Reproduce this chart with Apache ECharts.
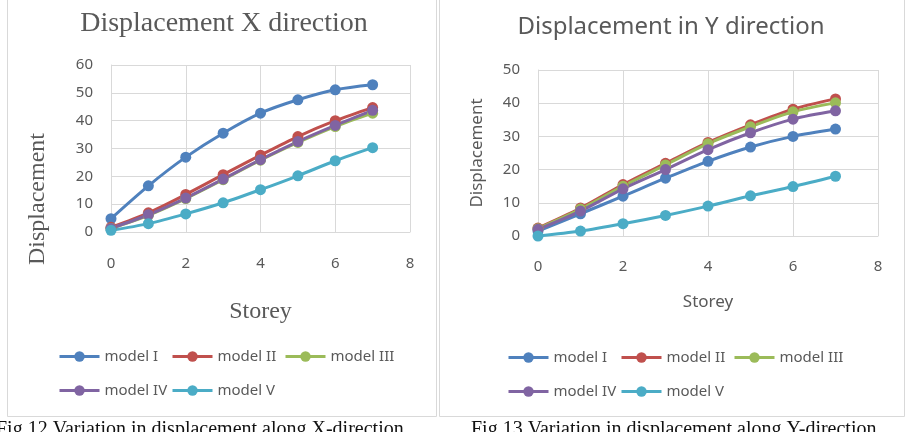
<!DOCTYPE html>
<html>
<head>
<meta charset="utf-8">
<script src="https://cdn.jsdelivr.net/npm/echarts@6/dist/echarts.min.js"></script>
<style>
  html, body { margin: 0; padding: 0; background: #fff; }
  #main { width: 910px; height: 432px; }
</style>
</head>
<body>
<div id="main"></div>
<script type="text/javascript">
// storey numbers on the x axis
var storeys = [0, 1, 2, 3, 4, 5, 6, 7];
var modelNames = ['model I', 'model II', 'model III', 'model IV', 'model V'];
var modelColors = ['#4F81BD', '#C0504D', '#9BBB59', '#8064A2', '#4BACC6'];

// displacement along X (fig 12)
var xModel1 = [4.8, 16.6, 26.9, 35.5, 42.7, 47.5, 51.1, 52.9];
var xModel2 = [1.7, 6.9, 13.5, 20.6, 27.6, 34.3, 40.0, 44.7];
var xModel3 = [1.3, 6.0, 12.0, 18.8, 25.8, 32.2, 37.9, 42.7];
var xModel4 = [1.3, 6.2, 12.2, 19.0, 26.0, 32.5, 38.3, 43.7];
var xModel5 = [0.6, 3.0, 6.5, 10.5, 15.2, 20.2, 25.6, 30.3];

// displacement along Y (fig 13)
var yModel1 = [1.5, 6.7, 12.0, 17.4, 22.5, 26.8, 30.0, 32.2];
var yModel2 = [2.4, 8.4, 15.5, 21.9, 28.2, 33.5, 38.2, 41.3];
var yModel3 = [2.2, 8.1, 15.0, 21.4, 27.8, 32.9, 37.4, 40.1];
var yModel4 = [2.0, 7.5, 14.2, 20.0, 26.0, 31.1, 35.2, 37.7];
var yModel5 = [0.0, 1.5, 3.7, 6.2, 9.0, 12.1, 14.9, 18.0];

var xSets = [xModel1, xModel2, xModel3, xModel4, xModel5];
var ySets = [yModel1, yModel2, yModel3, yModel4, yModel5];

var grey = '#595959';
var gridGrey = '#d9d9d9';

function pairs(vals) {
    return storeys.map(function (s, i) { return [s, vals[i]]; });
}

function makeSeries(vals, i, axisIdx) {
    return {
        name: modelNames[i],
        type: 'line',
        xAxisIndex: axisIdx,
        yAxisIndex: axisIdx,
        data: pairs(vals),
        smooth: 0.3,
        symbol: 'circle',
        symbolSize: 11,
        lineStyle: { width: 3, color: modelColors[i] },
        itemStyle: { color: modelColors[i] },
        emphasis: { disabled: true }
    };
}

function makeXAxis(idx, nameGap, nameFont, labelMargin) {
    return {
        type: 'value', gridIndex: idx, min: 0, max: 8, interval: 2,
        name: 'Storey', nameLocation: 'middle', nameGap: nameGap,
        nameTextStyle: nameFont,
        axisLine: { show: true, lineStyle: { color: gridGrey } },
        axisTick: { show: false },
        axisLabel: { color: grey, fontSize: 15, fontFamily: 'Noto Sans', margin: labelMargin },
        splitLine: { show: true, lineStyle: { color: gridGrey } }
    };
}

function makeYAxis(idx, max, name, nameGap, nameFont) {
    return {
        type: 'value', gridIndex: idx, min: 0, max: max, interval: 10,
        name: name, nameLocation: 'middle', nameGap: nameGap,
        nameTextStyle: nameFont,
        axisLine: { show: true, lineStyle: { color: gridGrey } },
        axisTick: { show: false },
        axisLabel: { color: grey, fontSize: 15, fontFamily: 'Noto Sans', margin: 18 },
        splitLine: { show: true, lineStyle: { color: gridGrey } }
    };
}

function makeLegend(name, left, top) {
    return {
        data: [{ name: name, textStyle: { fontFamily: 'Noto Sans' } }],
        left: left, top: top, padding: 0,
        itemWidth: 40, itemHeight: 13, itemGap: 0,
        selectedMode: false,
        lineStyle: { width: 3 },
        textStyle: { color: grey, fontSize: 15, fontFamily: 'Noto Sans' }
    };
}

var serifName = { color: grey, fontSize: 24, fontFamily: 'Liberation Serif' };
var sansName = { color: grey, fontSize: 17, fontFamily: 'Noto Sans' };

var series = [];
xSets.forEach(function (v, i) { series.push(makeSeries(v, i, 0)); });
ySets.forEach(function (v, i) { series.push(makeSeries(v, i, 1)); });

var option = {
    backgroundColor: '#fff',
    animation: false,
    textStyle: { fontFamily: 'Noto Sans' },
    title: [
        {
            text: 'Displacement X direction', left: 224, top: 10, textAlign: 'center', padding: 0,
            textStyle: { color: grey, fontSize: 28, fontWeight: 'normal', fontFamily: 'Liberation Serif' }
        },
        {
            text: 'Displacement in Y direction', left: 671, top: 15, textAlign: 'center', padding: 0,
            textStyle: { color: grey, fontSize: 24, fontWeight: 'normal', fontFamily: 'Noto Sans' }
        }
    ],
    legend: [
        makeLegend('model I', 58, 349),
        makeLegend('model II', 171, 349),
        makeLegend('model III', 284, 349),
        makeLegend('model IV', 58, 383),
        makeLegend('model V', 171, 383),
        makeLegend('model I', 507, 350),
        makeLegend('model II', 620, 350),
        makeLegend('model III', 733, 350),
        makeLegend('model IV', 507, 384),
        makeLegend('model V', 620, 384)
    ],
    grid: [
        { left: 111, top: 65, width: 299, height: 167 },
        { left: 538, top: 70, width: 340, height: 166 }
    ],
    xAxis: [makeXAxis(0, 68, serifName, 24), makeXAxis(1, 58, sansName, 23)],
    // left y title sits lower than the plot centre, so it is drawn as a graphic below
    yAxis: [makeYAxis(0, 60, '', 62, serifName), makeYAxis(1, 50, 'Displacement', 52, sansName)],
    series: series,
    graphic: [
        {
            type: 'rect', z: -1, silent: true,
            shape: { x: 7.5, y: -2, width: 429, height: 418.5 },
            style: { fill: 'none', stroke: gridGrey, lineWidth: 1 }
        },
        {
            type: 'rect', z: -1, silent: true,
            shape: { x: 439.5, y: -2, width: 465, height: 418.5 },
            style: { fill: 'none', stroke: gridGrey, lineWidth: 1 }
        },
        {
            type: 'text', x: 38, y: 199, rotation: Math.PI / 2, silent: true,
            style: { text: 'Displacement', fill: grey, font: '24px "Liberation Serif"',
                     align: 'center', verticalAlign: 'middle' }
        },
        {
            type: 'text', left: -4, top: 420,
            style: { text: 'Fig 12 Variation in displacement along X-direction', fill: '#111',
                     font: '20px "Liberation Serif"' }
        },
        {
            type: 'text', left: 471, top: 420,
            style: { text: 'Fig 13 Variation in displacement along Y-direction', fill: '#111',
                     font: '20px "Liberation Serif"' }
        }
    ]
};

var myChart = echarts.init(document.getElementById('main'));
myChart.setOption(option);
</script>
</body>
</html>
